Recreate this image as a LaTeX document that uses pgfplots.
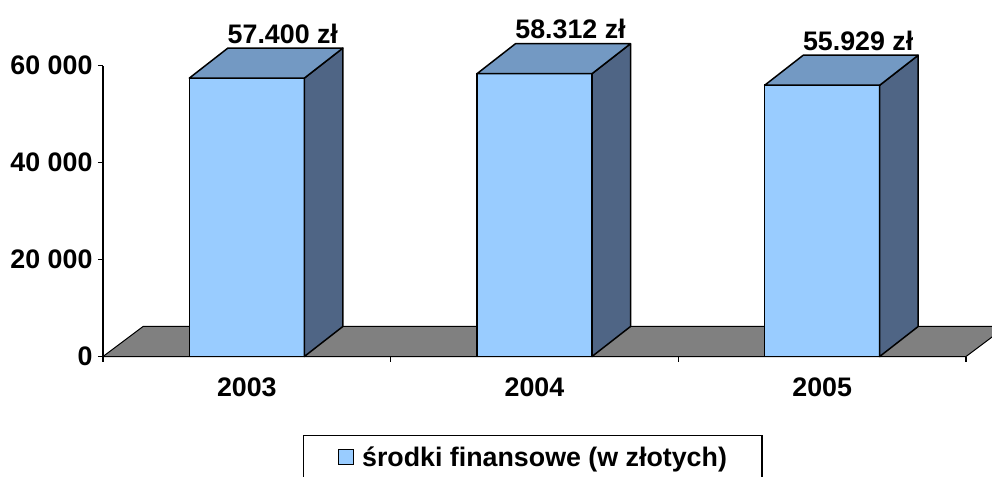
\documentclass[border=0pt]{standalone}
\usepackage{fontspec}
\setmainfont{Liberation Sans}
\usepackage{pgfplots}
\usepackage{pgfplotstable}
\pgfplotsset{compat=1.18}
\definecolor{barfront}{HTML}{99CCFF}
\definecolor{bartop}{HTML}{7399C3}
\definecolor{barside}{HTML}{4F6585}
\definecolor{floorgray}{HTML}{808080}

\pgfplotstableread{
x value
0 57400
1 58312
2 55929
}\datatable

\begin{document}
\begin{tikzpicture}
\useasboundingbox (0,0) rectangle (992pt,476pt);
\begin{axis}[
  at={(103pt,119.5pt)}, anchor=south west,
  scale only axis, width=863pt, height=291pt,
  xmin=-0.5, xmax=2.5, ymin=0, ymax=60000,
  clip=false,
  axis x line=bottom, axis y line=left,
  axis line style={-, line width=1.2pt},
  every tick/.style={black, line width=1.2pt},
  tick align=outside, major tick length=5pt,
  xtick={-0.5,0.5,1.5,2.5}, xticklabels={,,,},
  extra x ticks={0,1,2}, extra x tick labels={2003,2004,2005},
  extra x tick style={major tick length=0pt, tick label style={yshift=-18pt}},
  ytick={0,20000,40000,60000}, yticklabels={0,20 000,40 000,60 000},
  tick label style={font=\bfseries\fontsize{26.8}{30}\selectfont},
  yticklabel style={xshift=-2pt},
  scaled y ticks=false,
  legend style={at={(axis description cs:0.4977,-0.2698)}, anchor=north, draw=black, line width=1.2pt, inner xsep=35pt, inner ysep=11pt, font=\bfseries\fontsize{26.8}{30}\selectfont, nodes={inner sep=0pt}, /tikz/every odd column/.style={column sep=8pt}},
]
\fill[floorgray, draw=black, line width=1pt, line join=round] (axis cs:-0.5,0) -- (axis cs:2.5,0) -- ([xshift=40pt,yshift=30pt]axis cs:2.5,0) -- ([xshift=40pt,yshift=30pt]axis cs:-0.5,0) -- cycle;
\addplot[ybar, bar width=115pt, fill=barfront, draw=black, line width=1.5pt,
  legend image code/.code={\draw[fill=barfront, draw=black, line width=1pt] (0pt,-7.5pt) rectangle (15pt,7.5pt);},
  nodes near coords={\pgfmathprintnumber[assume math mode=true, fixed, 1000 sep={.}]{\pgfplotspointmeta}~zł},
  every node near coord/.append style={font=\bfseries\fontsize{26.8}{30}\selectfont, anchor=base, xshift=36pt, yshift=35pt, inner sep=0pt, text=black}
] table[x=x, y=value] {\datatable};
\addlegendentry{środki finansowe (w złotych)}
\pgfplotsinvokeforeach{0,1,2}{
  \pgfplotstablegetelem{#1}{value}\of\datatable
  \edef\barcmd{\noexpand\filldraw[fill=barside, draw=black, line width=1.5pt, line join=round]
    ([xshift=57.5pt]axis cs:#1,0) -- ([xshift=96pt,yshift=30pt]axis cs:#1,0) -- ([xshift=96pt,yshift=30pt]axis cs:#1,\pgfplotsretval) -- ([xshift=57.5pt]axis cs:#1,\pgfplotsretval) -- cycle;
    \noexpand\filldraw[fill=bartop, draw=black, line width=1.5pt, line join=round] ([xshift=-57.5pt]axis cs:#1,\pgfplotsretval) -- ([xshift=57.5pt]axis cs:#1,\pgfplotsretval) -- ([xshift=96pt,yshift=30pt]axis cs:#1,\pgfplotsretval) -- ([xshift=-19pt,yshift=30pt]axis cs:#1,\pgfplotsretval) -- cycle;}
  \barcmd
}
\end{axis}
\end{tikzpicture}
\end{document}
